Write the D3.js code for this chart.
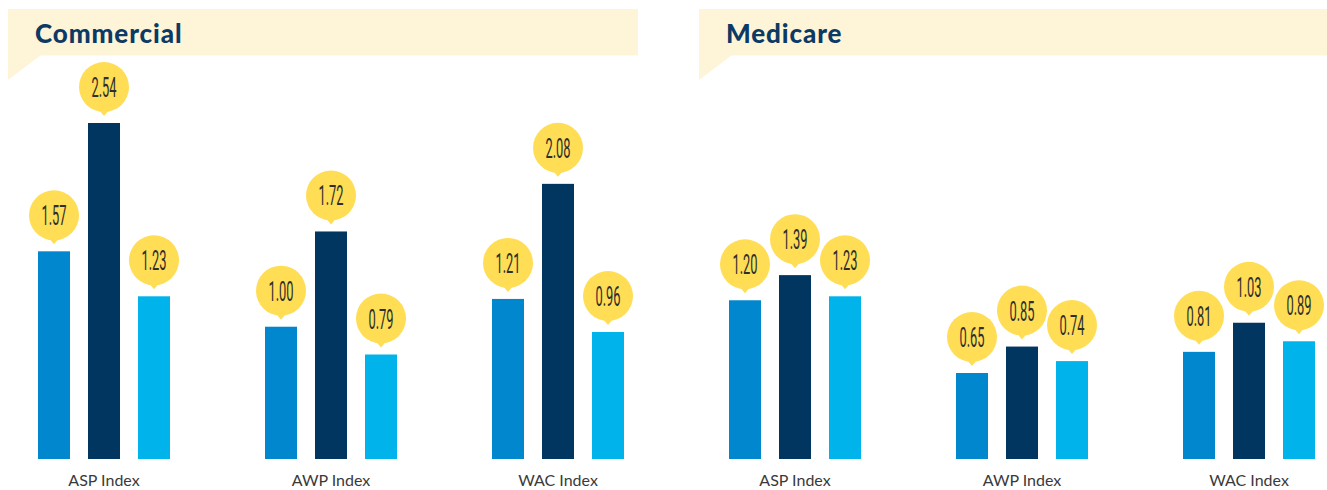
<!DOCTYPE html>
<html>
<head>
<meta charset="utf-8">
<script src="https://cdn.jsdelivr.net/npm/d3@7"></script>
<style>
  body { margin: 0; background: #fff; }
  svg { display: block; }
</style>
</head>
<body>
<svg id="chart" width="1327" height="490"></svg>
<script>
// Data
const panels = ["Commercial", "Medicare"];
const categories = ["ASP Index", "AWP Index", "WAC Index"];
const seriesNames = ["s1", "s2", "s3"];
const commercialValues = [
    [1.57, 2.54, 1.23],
    [1.00, 1.72, 0.79],
    [1.21, 2.08, 0.96]
];
const medicareValues = [
    [1.20, 1.39, 1.23],
    [0.65, 0.85, 0.74],
    [0.81, 1.03, 0.89]
];
const panelValues = [commercialValues, medicareValues];
const seriesColors = ["#0087cd", "#00365f", "#00b4eb"];

const svg = d3.select("#chart");

const baseline = 459;
const y = d3.scaleLinear()
    .domain([0, 2.54])
    .range([baseline, 123]);

const x = d3.scalePoint()
    .domain(categories)
    .range([104, 558]);

// bars within one category
const xInner = d3.scaleBand()
    .domain(seriesNames)
    .range([-75, 75])
    .paddingInner(0.36)
    .paddingOuter(0.18);

const panelOffset = 691;

panels.forEach((name, pi) => {
    const g = svg.append("g")
        .attr("transform", `translate(${pi * panelOffset}, 0)`);

    // Banner with tail
    g.append("rect")
        .attr("x", 8)
        .attr("y", 9)
        .attr("width", 630)
        .attr("height", 46.5)
        .attr("fill", "#fef5d9");
    g.append("path")
        .attr("d", "M8,55 L8,80 L41,55 Z")
        .attr("fill", "#fef5d9");

    g.append("text")
        .attr("x", 35)
        .attr("y", 43)
        .attr("fill", "#0d3a64")
        .style("font-family", "Lato, 'Open Sans', sans-serif")
        .style("font-weight", 900)
        .style("font-size", "26px")
        .style("letter-spacing", "0.9px")
        .text(name);

    const values = panelValues[pi];

    const groups = g.selectAll("g.cat")
        .data(categories)
        .enter().append("g")
        .attr("class", "cat")
        .attr("transform", d => `translate(${x(d)}, 0)`);

    groups.each(function(cat, ci) {
        const grp = d3.select(this);
        const rows = seriesNames.map((s, si) => ({ s, si, v: values[ci][si] }));

        grp.selectAll("rect.bar")
            .data(rows)
            .enter().append("rect")
            .attr("class", "bar")
            .attr("x", d => xInner(d.s))
            .attr("y", d => y(d.v))
            .attr("width", xInner.bandwidth())
            .attr("height", d => baseline - y(d.v))
            .attr("fill", d => seriesColors[d.si]);

        // Yellow value bubbles
        const bub = grp.selectAll("g.bubble")
            .data(rows)
            .enter().append("g")
            .attr("class", "bubble")
            .attr("transform", d => `translate(${xInner(d.s) + xInner.bandwidth() / 2}, ${y(d.v) - 36})`);

        bub.append("circle")
            .attr("r", 25)
            .attr("fill", "#ffdd55");
        bub.append("path")
            .attr("d", "M-5,23 L5,23 L0,29 Z")
            .attr("fill", "#ffdd55");
        bub.append("text")
            .attr("text-anchor", "middle")
            .attr("transform", "scale(0.46,1)")
            .attr("y", 10)
            .attr("fill", "#2e2e2e")
            .style("font-family", "Roboto, sans-serif")
            .style("font-weight", 400)
            .style("font-size", "28px")
            .text(d => d.v.toFixed(2));

        grp.append("text")
            .attr("text-anchor", "middle")
            .attr("y", 486)
            .attr("fill", "#3a3a3a")
            .style("font-family", "Lato, sans-serif")
            .style("font-size", "16px")
            .text(cat);
    });
});
</script>
</body>
</html>
